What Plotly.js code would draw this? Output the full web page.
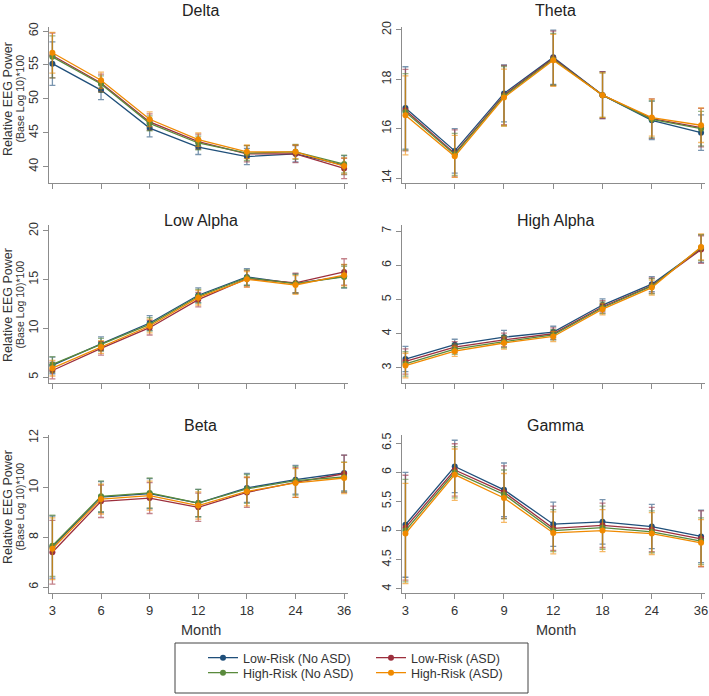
<!DOCTYPE html>
<html>
<head>
<meta charset="utf-8">
<script src="https://cdn.plot.ly/plotly-3.0.1.min.js"></script>
<style>html,body{margin:0;padding:0;background:#fff;}#chart{width:709px;height:696px;}</style>
</head>
<body>
<div id="chart"></div>
<script>
// ---- categories ----
const months = ['3', '6', '9', '12', '18', '24', '36'];
const groupNames = ['Low-Risk (No ASD)', 'Low-Risk (ASD)', 'High-Risk (No ASD)', 'High-Risk (ASD)'];
const panelTitles = ['Delta', 'Theta', 'Low Alpha', 'High Alpha', 'Beta', 'Gamma'];

// ---- Delta ----
const delta_LR_noASD = [55.2, 51.3, 45.7, 42.9, 41.5, 41.9, 40.25];
const delta_LR_ASD   = [56.4, 52.35, 46.6, 43.7, 41.9, 41.9, 39.75];
const delta_HR_noASD = [56.2, 52.2, 46.4, 43.5, 42.0, 42.2, 40.4];
const delta_HR_ASD   = [56.8, 52.75, 47.0, 44.0, 42.2, 42.2, 40.1];
const delta_LR_noASD_err = [3.2, 1.4, 1.3, 1.1, 1.2, 1.2, 1.4];
const delta_LR_ASD_err   = [3.3, 1.3, 1.2, 1.1, 1.2, 1.3, 1.5];
const delta_HR_noASD_err = [3.1, 1.2, 1.1, 1.0, 1.1, 1.1, 1.3];
const delta_HR_ASD_err   = [3.0, 1.2, 1.1, 1.0, 1.0, 1.0, 1.2];

// ---- Theta ----
const theta_LR_noASD = [16.84, 15.1, 17.43, 18.89, 17.36, 16.34, 15.84];
const theta_LR_ASD   = [16.75, 15.0, 17.36, 18.85, 17.36, 16.41, 16.04];
const theta_HR_noASD = [16.68, 14.96, 17.32, 18.81, 17.36, 16.38, 16.0];
const theta_HR_ASD   = [16.54, 14.88, 17.26, 18.77, 17.36, 16.45, 16.14];
const theta_LR_noASD_err = [1.67, 0.9, 1.15, 1.1, 0.95, 0.78, 0.72];
const theta_LR_ASD_err   = [1.65, 0.95, 1.2, 1.1, 0.95, 0.8, 0.78];
const theta_HR_noASD_err = [1.55, 0.85, 1.2, 1.05, 0.9, 0.75, 0.7];
const theta_HR_ASD_err   = [1.6, 0.85, 1.15, 1.05, 0.9, 0.75, 0.7];

// ---- Low Alpha ----
const lowAlpha_LR_noASD = [6.2, 8.42, 10.55, 13.4, 15.27, 14.59, 15.34];
const lowAlpha_LR_ASD   = [5.68, 7.95, 10.07, 12.95, 15.1, 14.66, 15.79];
const lowAlpha_HR_noASD = [6.3, 8.32, 10.41, 13.29, 15.2, 14.59, 15.27];
const lowAlpha_HR_ASD   = [5.92, 8.08, 10.24, 13.15, 15.03, 14.45, 15.45];
const lowAlpha_LR_noASD_err = [0.85, 0.7, 0.75, 0.75, 0.85, 1.0, 1.2];
const lowAlpha_LR_ASD_err   = [0.85, 0.7, 0.75, 0.75, 0.85, 1.0, 1.35];
const lowAlpha_HR_noASD_err = [0.8, 0.65, 0.7, 0.7, 0.8, 0.95, 1.1];
const lowAlpha_HR_ASD_err   = [0.8, 0.65, 0.7, 0.75, 0.8, 0.95, 1.1];

// ---- High Alpha ----
const highAlpha_LR_noASD = [3.26, 3.68, 3.9, 4.05, 4.84, 5.45, 6.49];
const highAlpha_LR_ASD   = [3.19, 3.61, 3.82, 4.0, 4.79, 5.41, 6.46];
const highAlpha_HR_noASD = [3.12, 3.55, 3.77, 3.97, 4.76, 5.39, 6.52];
const highAlpha_HR_ASD   = [3.07, 3.49, 3.73, 3.92, 4.72, 5.35, 6.54];
const highAlpha_LR_noASD_err = [0.37, 0.16, 0.2, 0.17, 0.18, 0.22, 0.4];
const highAlpha_LR_ASD_err   = [0.37, 0.16, 0.2, 0.17, 0.18, 0.22, 0.4];
const highAlpha_HR_noASD_err = [0.36, 0.15, 0.18, 0.15, 0.17, 0.22, 0.38];
const highAlpha_HR_ASD_err   = [0.36, 0.15, 0.18, 0.15, 0.17, 0.22, 0.38];

// ---- Beta ----
const beta_LR_noASD = [7.61, 9.62, 9.76, 9.38, 9.99, 10.32, 10.59];
const beta_LR_ASD   = [7.4, 9.45, 9.58, 9.21, 9.81, 10.21, 10.56];
const beta_HR_noASD = [7.66, 9.65, 9.79, 9.38, 9.95, 10.28, 10.43];
const beta_HR_ASD   = [7.54, 9.54, 9.68, 9.28, 9.85, 10.19, 10.39];
const beta_LR_noASD_err = [1.25, 0.62, 0.6, 0.55, 0.58, 0.58, 0.72];
const beta_LR_ASD_err   = [1.28, 0.65, 0.62, 0.57, 0.6, 0.6, 0.75];
const beta_HR_noASD_err = [1.23, 0.62, 0.6, 0.55, 0.58, 0.58, 0.6];
const beta_HR_ASD_err   = [1.24, 0.6, 0.58, 0.55, 0.58, 0.58, 0.63];

// ---- Gamma ----
const gamma_LR_noASD = [5.1, 6.1, 5.7, 5.11, 5.15, 5.07, 4.9];
const gamma_LR_ASD   = [5.05, 6.04, 5.66, 5.04, 5.09, 5.02, 4.86];
const gamma_HR_noASD = [5.0, 6.0, 5.62, 5.0, 5.05, 4.98, 4.82];
const gamma_HR_ASD   = [4.95, 5.96, 5.56, 4.96, 5.0, 4.95, 4.79];
const gamma_LR_noASD_err = [0.9, 0.45, 0.46, 0.38, 0.38, 0.38, 0.45];
const gamma_LR_ASD_err   = [0.9, 0.45, 0.45, 0.38, 0.38, 0.38, 0.48];
const gamma_HR_noASD_err = [0.88, 0.44, 0.42, 0.36, 0.37, 0.36, 0.4];
const gamma_HR_ASD_err   = [0.86, 0.44, 0.42, 0.36, 0.36, 0.36, 0.4];

// ---- assembly ----
const panels = [
  [[delta_LR_noASD, delta_LR_noASD_err], [delta_LR_ASD, delta_LR_ASD_err], [delta_HR_noASD, delta_HR_noASD_err], [delta_HR_ASD, delta_HR_ASD_err]],
  [[theta_LR_noASD, theta_LR_noASD_err], [theta_LR_ASD, theta_LR_ASD_err], [theta_HR_noASD, theta_HR_noASD_err], [theta_HR_ASD, theta_HR_ASD_err]],
  [[lowAlpha_LR_noASD, lowAlpha_LR_noASD_err], [lowAlpha_LR_ASD, lowAlpha_LR_ASD_err], [lowAlpha_HR_noASD, lowAlpha_HR_noASD_err], [lowAlpha_HR_ASD, lowAlpha_HR_ASD_err]],
  [[highAlpha_LR_noASD, highAlpha_LR_noASD_err], [highAlpha_LR_ASD, highAlpha_LR_ASD_err], [highAlpha_HR_noASD, highAlpha_HR_noASD_err], [highAlpha_HR_ASD, highAlpha_HR_ASD_err]],
  [[beta_LR_noASD, beta_LR_noASD_err], [beta_LR_ASD, beta_LR_ASD_err], [beta_HR_noASD, beta_HR_noASD_err], [beta_HR_ASD, beta_HR_ASD_err]],
  [[gamma_LR_noASD, gamma_LR_noASD_err], [gamma_LR_ASD, gamma_LR_ASD_err], [gamma_HR_noASD, gamma_HR_noASD_err], [gamma_HR_ASD, gamma_HR_ASD_err]]
];

const colors = ['#1f4f7a', '#9c2f3d', '#5a8a3c', '#f08a00'];
const errColors = ['rgba(31,79,122,0.6)', 'rgba(156,47,61,0.6)', 'rgba(90,138,60,0.6)', 'rgba(240,138,0,0.6)'];
const legendIds = ['legend', 'legend3', 'legend2', 'legend4'];

const W = 709, H = 696;
const px = v => v / W;
const py = v => 1 - v / H;

const colX = [[49, 348], [402, 705]];
const rowY = [[27, 183], [225, 383], [435, 593]];
const yRanges = [[37.6, 60.6], [13.8, 20.12], [4.4, 20.6], [2.56, 7.18], [5.76, 12.12], [3.93, 6.64]];
const yDticks = [5, 2, 5, 1, 2, 0.5];

const FONT = 'Liberation Sans, Arial, Helvetica, sans-serif';
const traces = [];
const layout = {
  width: W, height: H,
  margin: {l: 0, r: 0, t: 0, b: 0},
  paper_bgcolor: '#ffffff', plot_bgcolor: '#ffffff',
  font: {family: FONT, color: '#333333', size: 12.5},
  annotations: [], shapes: []
};

for (let p = 0; p < 6; p++) {
  const row = Math.floor(p / 2), col = p % 2;
  const n = p + 1;
  const xa = 'xaxis' + (n === 1 ? '' : n), ya = 'yaxis' + (n === 1 ? '' : n);
  const xr = 'x' + (n === 1 ? '' : n), yr = 'y' + (n === 1 ? '' : n);
  layout[xa] = {
    domain: [px(colX[col][0]), px(colX[col][1])],
    anchor: yr, type: 'category', range: [-0.07, 6.08],
    showline: true, linecolor: '#8c8c8c', linewidth: 1,
    ticks: 'outside', ticklen: 5, tickcolor: '#8c8c8c', tickwidth: 1,
    showgrid: false, zeroline: false,
    showticklabels: row === 2,
    tickfont: {size: 13, color: '#333'},
    fixedrange: true
  };
  layout[ya] = {
    domain: [py(rowY[row][1]), py(rowY[row][0])],
    anchor: xr, range: yRanges[p], dtick: yDticks[p], tick0: 0,
    showline: true, linecolor: '#8c8c8c', linewidth: 1,
    ticks: 'outside', ticklen: 5, tickcolor: '#8c8c8c', tickwidth: 1,
    showgrid: false, zeroline: false, tickangle: -90,
    tickfont: {size: 12.5, color: '#333'},
    fixedrange: true
  };
  for (let g = 0; g < 4; g++) {
    traces.push({
      type: 'scatter', mode: 'lines+markers',
      x: months, y: panels[p][g][0],
      error_y: {type: 'data', array: panels[p][g][1], visible: true, color: errColors[g], thickness: 1.3, width: 3},
      line: {color: colors[g], width: 1.3},
      marker: {color: colors[g], size: 6},
      name: groupNames[g],
      xaxis: xr, yaxis: yr,
      showlegend: p === 0,
      legend: legendIds[g],
      hoverinfo: 'x+y+name'
    });
  }
  // panel title
  const cx = (colX[col][0] + colX[col][1]) / 2 + 2;
  const titleY = [10, 221, 425][row];
  layout.annotations.push({
    text: panelTitles[p], xref: 'paper', yref: 'paper',
    x: px(cx), y: py(titleY), xanchor: 'center', yanchor: 'middle',
    showarrow: false, font: {size: 16, color: '#222'}
  });
  // y-axis title (left column only)
  if (col === 0) {
    const cy = [99, 305, 507][row];
    layout.annotations.push({
      text: 'Relative EEG Power', xref: 'paper', yref: 'paper',
      x: px(8), y: py(cy), xanchor: 'center', yanchor: 'middle', textangle: -90,
      showarrow: false, font: {size: 12.5, color: '#333'}
    });
    layout.annotations.push({
      text: '(Base Log 10)*100', xref: 'paper', yref: 'paper',
      x: px(19.5), y: py(cy), xanchor: 'center', yanchor: 'middle', textangle: -90,
      showarrow: false, font: {size: 10.5, color: '#333'}
    });
  }
  // x-axis title (bottom row only)
  if (row === 2) {
    layout.annotations.push({
      text: 'Month', xref: 'paper', yref: 'paper',
      x: px(cx), y: py(630), xanchor: 'center', yanchor: 'middle',
      showarrow: false, font: {size: 14.5, color: '#333'}
    });
  }
}

// legends: one per entry, arranged 2x2 inside a framed box
const legPos = [[203, 658], [203, 673], [371, 658], [371, 673]]; // legend, legend2, legend3, legend4
['legend', 'legend2', 'legend3', 'legend4'].forEach((id, i) => {
  layout[id] = {
    x: px(legPos[i][0]), y: py(legPos[i][1]), xanchor: 'left', yanchor: 'middle',
    bgcolor: 'rgba(0,0,0,0)', borderwidth: 0,
    font: {size: 12.5, color: '#333'}
  };
});
layout.shapes.push({
  type: 'rect', xref: 'paper', yref: 'paper',
  x0: px(175), x1: px(528), y0: py(693), y1: py(643),
  line: {color: '#444', width: 1}, fillcolor: 'rgba(0,0,0,0)'
});

Plotly.newPlot('chart', traces, layout, {displayModeBar: false, responsive: false});
</script>
</body>
</html>
